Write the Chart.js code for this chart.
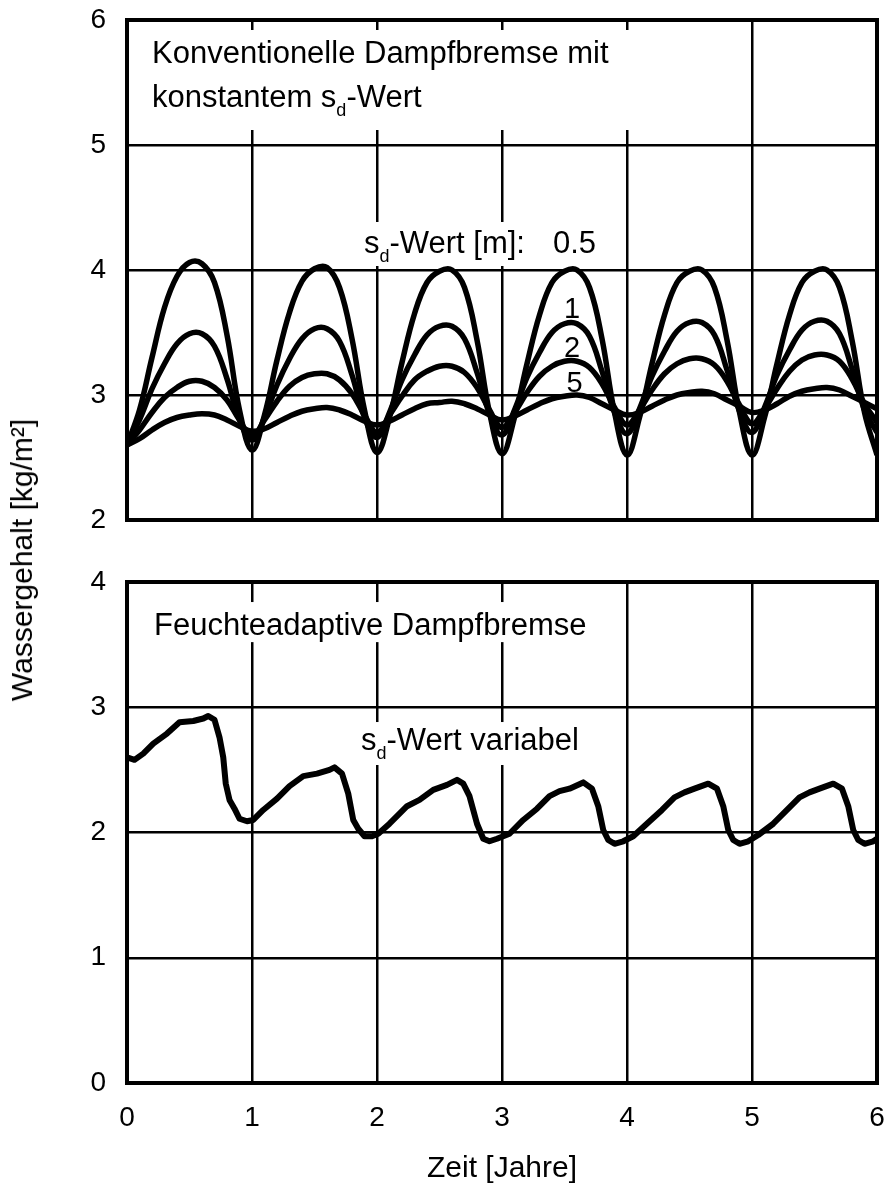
<!DOCTYPE html>
<html>
<head>
<meta charset="utf-8">
<script src="https://cdn.jsdelivr.net/npm/chart.js@4.4.1/dist/chart.umd.min.js"></script>
<style>
  body { margin: 0; background: #fff; }
  #wrap { position: relative; width: 892px; height: 1190px; }
  #topChart { position: absolute; left: 0; top: 0; }
  #bottomChart { position: absolute; left: 0; top: 560px; }
  #yTitle {
    position: absolute; left: 22px; top: 560px;
    transform: translate(-50%, -50%) rotate(-90deg);
    font: 30px "Liberation Sans", Arial, sans-serif;
    white-space: nowrap; color: #000;
  }
</style>
</head>
<body>
<div id="wrap">
  <canvas id="topChart" width="892" height="540"></canvas>
  <canvas id="bottomChart" width="892" height="630"></canvas>
  <div id="yTitle">Wassergehalt [kg/m²]</div>
</div>
<script>
// time axis (years), shared by the four curves of the upper panel
const years = [
  0, 0.1, 0.2, 0.3, 0.4, 0.5, 0.6, 0.7, 0.8, 0.9,
  1, 1.1, 1.2, 1.3, 1.4, 1.5, 1.6, 1.7, 1.8, 1.9,
  2, 2.1, 2.2, 2.3, 2.4, 2.5, 2.6, 2.7, 2.8, 2.9,
  3, 3.1, 3.2, 3.3, 3.4, 3.5, 3.6, 3.7, 3.8, 3.9,
  4, 4.1, 4.2, 4.3, 4.4, 4.5, 4.6, 4.7, 4.8, 4.9,
  5, 5.1, 5.2, 5.3, 5.4, 5.5, 5.6, 5.7, 5.8, 5.9, 6
];

// water content [kg/m2], conventional vapour retarder, sd = 0.5 / 1 / 2 / 5 m
const sd05 = [
  2.60, 2.88, 3.30, 3.70, 3.95, 4.06, 4.05, 3.90, 3.48, 2.88,
  2.56, 2.84, 3.28, 3.66, 3.91, 4.01, 4.02, 3.86, 3.45, 2.88,
  2.54, 2.82, 3.26, 3.65, 3.90, 3.99, 4.00, 3.86, 3.44, 2.86,
  2.53, 2.82, 3.25, 3.64, 3.90, 3.99, 4.00, 3.86, 3.45, 2.86,
  2.52, 2.82, 3.25, 3.64, 3.90, 3.99, 4.00, 3.86, 3.44, 2.86,
  2.52, 2.82, 3.25, 3.64, 3.90, 3.99, 4.00, 3.86, 3.44, 2.86, 2.52
];
const sd1 = [
  2.60, 2.80, 3.05, 3.25, 3.41, 3.49, 3.49, 3.39, 3.13, 2.80,
  2.64, 2.82, 3.08, 3.29, 3.45, 3.53, 3.53, 3.43, 3.16, 2.82,
  2.66, 2.86, 3.12, 3.32, 3.48, 3.55, 3.55, 3.45, 3.18, 2.85,
  2.68, 2.88, 3.14, 3.34, 3.50, 3.57, 3.57, 3.47, 3.19, 2.86,
  2.69, 2.89, 3.15, 3.35, 3.51, 3.58, 3.58, 3.48, 3.20, 2.87,
  2.70, 2.90, 3.16, 3.36, 3.52, 3.59, 3.59, 3.49, 3.21, 2.88, 2.70
];
const sd2 = [
  2.60, 2.72, 2.86, 2.98, 3.06, 3.11, 3.11, 3.06, 2.96, 2.80,
  2.67, 2.80, 2.95, 3.07, 3.14, 3.17, 3.17, 3.12, 3.01, 2.84,
  2.70, 2.84, 2.99, 3.12, 3.19, 3.23, 3.23, 3.18, 3.06, 2.88,
  2.74, 2.86, 3.02, 3.15, 3.23, 3.27, 3.27, 3.22, 3.09, 2.90,
  2.76, 2.88, 3.04, 3.17, 3.25, 3.29, 3.29, 3.24, 3.11, 2.92,
  2.77, 2.89, 3.05, 3.19, 3.28, 3.32, 3.32, 3.27, 3.13, 2.93, 2.78
];
const sd5 = [
  2.60, 2.65, 2.72, 2.78, 2.82, 2.84, 2.85, 2.84, 2.80, 2.75,
  2.71, 2.73, 2.78, 2.83, 2.87, 2.89, 2.90, 2.88, 2.84, 2.79,
  2.76, 2.79, 2.84, 2.89, 2.93, 2.94, 2.95, 2.93, 2.89, 2.84,
  2.80, 2.83, 2.88, 2.93, 2.97, 2.99, 3.00, 2.98, 2.93, 2.88,
  2.84, 2.86, 2.91, 2.96, 3.00, 3.02, 3.03, 3.01, 2.96, 2.91,
  2.86, 2.88, 2.93, 2.99, 3.03, 3.05, 3.06, 3.04, 2.99, 2.94, 2.89
];

// moisture-adaptive vapour retarder (lower panel)
const adaptiveYears = [
  0, 0.06, 0.13, 0.21, 0.32, 0.42, 0.53, 0.61, 0.65, 0.70,
  0.74, 0.77, 0.79, 0.82, 0.86, 0.90, 0.96, 1.01, 1.09, 1.20,
  1.30, 1.41, 1.52, 1.62, 1.66, 1.72, 1.77, 1.81, 1.85, 1.90,
  1.96, 2.01, 2.10, 2.24, 2.34, 2.45, 2.56, 2.64, 2.69, 2.74,
  2.80, 2.85, 2.90, 2.96, 3.06, 3.17, 3.28, 3.38, 3.46, 3.54,
  3.65, 3.72, 3.77, 3.81, 3.85, 3.90, 3.97, 4.05, 4.17, 4.28,
  4.38, 4.46, 4.54, 4.65, 4.72, 4.77, 4.81, 4.85, 4.90, 4.97,
  5.05, 5.17, 5.28, 5.38, 5.46, 5.54, 5.65, 5.72, 5.77, 5.81,
  5.85, 5.90, 5.97, 6.0
];
const adaptive = [
  2.60, 2.58, 2.63, 2.71, 2.79, 2.88, 2.89, 2.91, 2.93, 2.90,
  2.76, 2.60, 2.39, 2.26, 2.19, 2.11, 2.09, 2.10, 2.18, 2.27,
  2.37, 2.45, 2.47, 2.50, 2.52, 2.47, 2.31, 2.10, 2.03, 1.97,
  1.97, 1.99, 2.07, 2.21, 2.26, 2.34, 2.38, 2.42, 2.39, 2.29,
  2.07, 1.95, 1.93, 1.95, 1.99, 2.10, 2.19, 2.29, 2.33, 2.35,
  2.40, 2.35, 2.21, 2.02, 1.94, 1.91, 1.93, 1.97, 2.08, 2.18,
  2.28, 2.32, 2.35, 2.39, 2.35, 2.21, 2.02, 1.94, 1.91, 1.93,
  1.98, 2.07, 2.18, 2.28, 2.32, 2.35, 2.39, 2.35, 2.21, 2.02,
  1.94, 1.91, 1.93, 1.95
];

const FONT = '"Liberation Sans", Arial, sans-serif';
Chart.defaults.font.family = FONT;
Chart.defaults.color = '#000';

function pts(xs, ys) {
  return xs.map((x, i) => ({ x: x, y: ys[i] }));
}

// white label boxes, texts with subscript, heavy frame
const notesPlugin = {
  id: 'notes',
  beforeDatasetsDraw(chart, args, opts) {
    const ctx = chart.ctx;
    const xs = chart.scales.x, ys = chart.scales.y;
    ctx.save();
    ctx.fillStyle = '#fff';
    (opts.boxes || []).forEach(b => {
      const x0 = xs.getPixelForValue(b[0]), x1 = xs.getPixelForValue(b[1]);
      const y0 = ys.getPixelForValue(b[2]), y1 = ys.getPixelForValue(b[3]);
      ctx.fillRect(x0, y0, x1 - x0, y1 - y0);
    });
    ctx.fillStyle = '#000';
    ctx.textBaseline = 'alphabetic';
    (opts.texts || []).forEach(t => {
      const size = t.size || 31;
      let x = xs.getPixelForValue(t.x);
      const y = ys.getPixelForValue(t.y);
      if (t.center) {
        ctx.font = size + 'px ' + FONT;
        x -= ctx.measureText(t.parts.join('')).width / 2;
      }
      t.parts.forEach(p => {
        const isSub = typeof p !== 'string';
        const s = isSub ? p.sub : p;
        ctx.font = (isSub ? 18 : size) + 'px ' + FONT;
        ctx.fillText(s, x, y + (isSub ? 9 : 0));
        x += ctx.measureText(s).width;
      });
    });
    ctx.restore();
  },
  afterDatasetsDraw(chart) {
    const { left, top, right, bottom } = chart.chartArea;
    const ctx = chart.ctx;
    ctx.save();
    ctx.strokeStyle = '#000';
    ctx.lineWidth = 4;
    ctx.strokeRect(left, top, right - left, bottom - top);
    ctx.restore();
  }
};

function panelOptions(yMin, yMax, showX, notes, pad) {
  return {
    responsive: false,
    animation: false,
    layout: { padding: pad },
    plugins: { legend: { display: false }, tooltip: { enabled: false }, notes: notes },
    scales: {
      x: {
        type: 'linear', min: 0, max: 6,
        ticks: { stepSize: 1, display: showX, font: { size: 28 }, padding: 18 },
        grid: { color: '#000', lineWidth: 2.5, drawTicks: false },
        border: { display: false },
        title: { display: showX, text: 'Zeit [Jahre]', font: { size: 30 }, padding: { top: 0, bottom: 3 } },
        afterFit(s) {
          s.height = showX ? 107 : 0;
          s.paddingLeft = 0;
          s.paddingRight = 0;
        }
      },
      y: {
        min: yMin, max: yMax,
        ticks: { stepSize: 1, font: { size: 28 }, padding: 21 },
        grid: { color: '#000', lineWidth: 2.5, drawTicks: false },
        border: { display: false },
        afterFit(s) {
          s.width = 127;
          s.paddingTop = 0;
          s.paddingBottom = 0;
        }
      }
    }
  };
}

function curve(data) {
  return {
    data: data, borderColor: '#000', borderWidth: 5.5, pointRadius: 0,
    fill: false, tension: 0.4
  };
}

new Chart(document.getElementById('topChart'), {
  type: 'line',
  data: {
    datasets: [
      curve(pts(years, sd05)),
      curve(pts(years, sd1)),
      curve(pts(years, sd2)),
      curve(pts(years, sd5))
    ]
  },
  options: panelOptions(2, 6, false, {
    boxes: [[0.104, 4.104, 5.92, 5.12], [1.824, 3.824, 4.384, 4.032]],
    texts: [
      { x: 0.2, y: 5.656, parts: ['Konventionelle Dampfbremse mit'] },
      { x: 0.2, y: 5.304, parts: ['konstantem s', { sub: 'd' }, '-Wert'] },
      { x: 1.896, y: 4.136, parts: ['s', { sub: 'd' }, '-Wert [m]:'] },
      { x: 3.408, y: 4.136, parts: ['0.5'] },
      { x: 3.56, y: 3.616, parts: ['1'], size: 29, center: true },
      { x: 3.56, y: 3.304, parts: ['2'], size: 29, center: true },
      { x: 3.58, y: 3.024, parts: ['5'], size: 29, center: true }
    ]
  }, { top: 20, left: 0, right: 15, bottom: 20 }),
  plugins: [notesPlugin]
});

new Chart(document.getElementById('bottomChart'), {
  type: 'line',
  data: {
    datasets: [{
      data: pts(adaptiveYears, adaptive), borderColor: '#000', borderWidth: 6,
      pointRadius: 0, fill: false, tension: 0, borderJoinStyle: 'round'
    }]
  },
  options: panelOptions(0, 4, true, {
    boxes: [[0.168, 3.784, 3.84, 3.52], [1.824, 3.704, 2.882, 2.539]],
    texts: [
      { x: 0.216, y: 3.577, parts: ['Feuchteadaptive Dampfbremse'] },
      { x: 1.872, y: 2.659, parts: ['s', { sub: 'd' }, '-Wert variabel'] }
    ]
  }, { top: 22, left: 0, right: 15, bottom: 0 }),
  plugins: [notesPlugin]
});
</script>
</body>
</html>
